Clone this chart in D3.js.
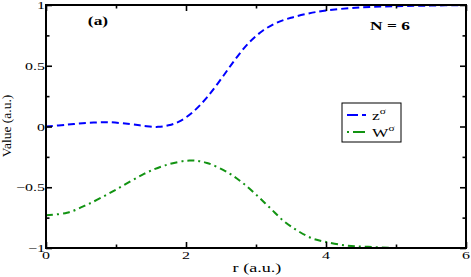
<!DOCTYPE html>
<html>
<head>
<meta charset="utf-8">
<script src="https://cdn.jsdelivr.net/npm/d3@7"></script>
<style>
  body { margin: 0; background: #fff; }
  text { font-family: "Liberation Serif", "DejaVu Serif", serif; }
</style>
</head>
<body>
<svg id="svg1" width="471" height="277"></svg>
<script>
// values
var rZ = [0, 0.3, 0.6, 0.9, 1.2, 1.4, 1.6, 1.75, 1.9, 2.1, 2.3, 2.5, 2.7, 2.9, 3.1, 3.3, 3.5, 3.75, 4.0, 4.5, 5.0, 5.5, 6.0];
var zVals = [0, 0.015, 0.03, 0.035, 0.02, 0.005, -0.003, 0.01, 0.04, 0.12, 0.24, 0.39, 0.55, 0.69, 0.79, 0.855, 0.895, 0.93, 0.955, 0.98, 0.99, 0.995, 1.0];

var rW = [0, 0.3, 0.6, 1.0, 1.4, 1.7, 2.05, 2.3, 2.6, 2.8, 3.0, 3.2, 3.4, 3.6, 3.8, 4.0, 4.3, 4.6, 5.0, 5.5, 6.0];
var wVals = [-0.73, -0.71, -0.64, -0.52, -0.39, -0.32, -0.28, -0.30, -0.38, -0.46, -0.56, -0.67, -0.78, -0.86, -0.92, -0.95, -0.98, -0.99, -1.0, -1.0, -1.0];

var xTicks = [0, 2, 4, 6];
var xMinor = [1, 3, 5];
var yTicks = [-1, -0.5, 0, 0.5, 1];
var yMinor = [-0.75, -0.25, 0.25, 0.75];

var padL = 46, padR = 466, padT = 5, padB = 248;
var stretch = 1.45;   // text in the picture is drawn wide

var svg = d3.select("#svg1");

var x = d3.scaleLinear().domain([0, 6]).range([padL, padR]);
var y = d3.scaleLinear().domain([-1, 1]).range([padB, padT]);

// curves
var line = d3.line()
    .x(function (d) { return x(d[0]); })
    .y(function (d) { return y(d[1]); })
    .curve(d3.curveCatmullRom.alpha(0.5));

svg.append("path")
    .datum(d3.zip(rZ, zVals))
    .attr("d", line)
    .attr("fill", "none")
    .attr("stroke", "#0000ff")
    .attr("stroke-width", 2)
    .attr("stroke-dasharray", "7,4");

svg.append("path")
    .datum(d3.zip(rW, wVals))
    .attr("d", line)
    .attr("fill", "none")
    .attr("stroke", "#129312")
    .attr("stroke-width", 2)
    .attr("stroke-dasharray", "7,4,2,4");

// axes, ticks pointing inwards, mirrored on the top and right
function tickFmt(d) { return d3.format("")(d); }

svg.append("g").attr("transform", "translate(0," + padB + ")")
    .call(d3.axisTop(x).tickValues(xTicks).tickSize(6).tickFormat(""));
svg.append("g").attr("transform", "translate(0," + padB + ")")
    .call(d3.axisTop(x).tickValues(xMinor).tickSize(3.5).tickFormat(""));
svg.append("g").attr("transform", "translate(0," + padT + ")")
    .call(d3.axisBottom(x).tickValues(xTicks).tickSize(6).tickFormat(""));
svg.append("g").attr("transform", "translate(0," + padT + ")")
    .call(d3.axisBottom(x).tickValues(xMinor).tickSize(3.5).tickFormat(""));
svg.append("g").attr("transform", "translate(" + padL + ",0)")
    .call(d3.axisRight(y).tickValues(yTicks).tickSize(6).tickFormat(""));
svg.append("g").attr("transform", "translate(" + padL + ",0)")
    .call(d3.axisRight(y).tickValues(yMinor).tickSize(3.5).tickFormat(""));
svg.append("g").attr("transform", "translate(" + padR + ",0)")
    .call(d3.axisLeft(y).tickValues(yTicks).tickSize(6).tickFormat(""));
svg.append("g").attr("transform", "translate(" + padR + ",0)")
    .call(d3.axisLeft(y).tickValues(yMinor).tickSize(3.5).tickFormat(""));

svg.selectAll(".domain").remove();
svg.selectAll(".tick line").attr("stroke", "#000").attr("stroke-width", 1.6);

svg.append("rect")
    .attr("x", padL).attr("y", padT)
    .attr("width", padR - padL).attr("height", padB - padT)
    .attr("fill", "none").attr("stroke", "#000").attr("stroke-width", 2);

// wide text helper
function wide(px, py) {
  return "translate(" + px + "," + py + ") scale(" + stretch + ",1)";
}

// tick labels
svg.selectAll(".xlab").data(xTicks).enter().append("text")
    .attr("transform", function (d) { return wide(x(d), padB + 11); })
    .attr("text-anchor", "middle")
    .attr("font-size", 11)
    .text(tickFmt);

svg.selectAll(".ylab").data(yTicks).enter().append("text")
    .attr("transform", function (d) { return wide(padL - 1, y(d) + 4); })
    .attr("text-anchor", "end")
    .attr("font-size", 11)
    .text(tickFmt);

// axis titles
svg.append("text")
    .attr("transform", wide((padL + padR) / 2 + 1, 272))
    .attr("text-anchor", "middle")
    .attr("font-size", 12.5)
    .text("r (a.u.)");

svg.append("text")
    .attr("transform", "translate(11,126) rotate(-90)")
    .attr("text-anchor", "middle")
    .attr("font-size", 13.5)
    .text("Value (a.u.)");

svg.append("text")
    .attr("transform", wide(98, 25))
    .attr("text-anchor", "middle")
    .attr("font-size", 12).attr("font-weight", "bold")
    .text("(a)");

svg.append("text")
    .attr("transform", wide(390, 30))
    .attr("text-anchor", "middle")
    .attr("font-size", 12).attr("font-weight", "bold")
    .text("N = 6");

// legend
var lg = svg.append("g").attr("transform", "translate(342,103)");
lg.append("rect")
    .attr("width", 59).attr("height", 39)
    .attr("fill", "#fff").attr("stroke", "#000").attr("stroke-width", 1);

var legendItems = [
  { name: "z", color: "#0000ff", dash: "11,4", yy: 12, base: 17 },
  { name: "W", color: "#129312", dash: "2,4,12,4", yy: 29, base: 34 }
];

legendItems.forEach(function (it) {
  lg.append("line")
    .attr("x1", 5).attr("x2", 24)
    .attr("y1", it.yy).attr("y2", it.yy)
    .attr("stroke", it.color).attr("stroke-width", 2)
    .attr("stroke-dasharray", it.dash);
  var t = lg.append("text")
    .attr("transform", wide(30, it.base))
    .attr("font-size", 12);
  t.append("tspan").text(it.name);
  t.append("tspan").attr("dy", -6).attr("font-size", 8).text("σ");
});
</script>
</body>
</html>
